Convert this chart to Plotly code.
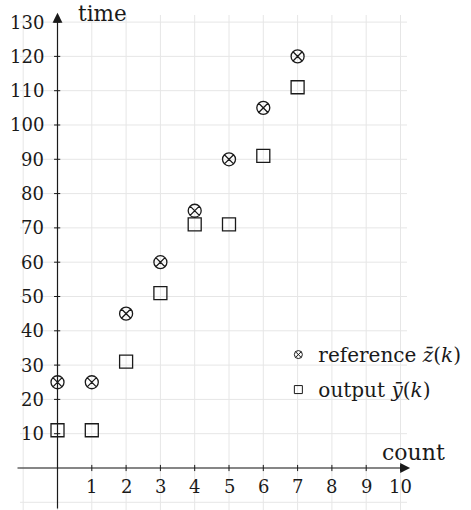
import plotly.graph_objects as go

# ---- data -------------------------------------------------------------
count = [0, 1, 2, 3, 4, 5, 6, 7]
reference_z = [25, 25, 45, 60, 75, 90, 105, 120]
output_y = [11, 11, 31, 51, 71, 71, 91, 111]

x_tick_vals = [1, 2, 3, 4, 5, 6, 7, 8, 9, 10]
y_tick_vals = [10, 20, 30, 40, 50, 60, 70, 80, 90, 100, 110, 120, 130]
x_grid_vals = list(range(-1, 11))
y_grid_vals = list(range(-10, 131, 10))

# ---- geometry (data units) ---------------------------------------------
X_LIM = (-1.6764, 12.0554)
Y_LIM = (-12.245, 136.44)
GRID_X_SPAN = (-1.093, 10.19)
GRID_Y_SPAN = (Y_LIM[0], 132.07)

FONT = "DejaVu Serif"
INK = "#1a1a1a"
GRID = "#e6e6e6"

fig = go.Figure()

# data traces
fig.add_trace(go.Scatter(
    x=count, y=reference_z, mode="markers", showlegend=False,
    marker=dict(symbol="circle-x-open", size=13, color=INK, line=dict(width=1.3, color=INK)),
))
fig.add_trace(go.Scatter(
    x=count, y=output_y, mode="markers", showlegend=False,
    marker=dict(symbol="square-open", size=13, color=INK, line=dict(width=1.3, color=INK)),
))
# legend entries (smaller legend symbols)
fig.add_trace(go.Scatter(
    x=[None], y=[None], mode="markers", name="reference <i>z̄</i>(<i>k</i>)",
    legendgroup="a",
    marker=dict(symbol="circle-x-open", size=8, color=INK, line=dict(width=1, color=INK)),
))
fig.add_trace(go.Scatter(
    x=[None], y=[None], mode="markers", name="output <i>ȳ</i>(<i>k</i>)",
    legendgroup="b",
    marker=dict(symbol="square-open", size=8, color=INK, line=dict(width=1, color=INK)),
))

shapes = []
# grid
for gx in x_grid_vals:
    shapes.append(dict(type="line", xref="x", yref="y", x0=gx, x1=gx,
                       y0=GRID_Y_SPAN[0], y1=GRID_Y_SPAN[1], layer="below",
                       line=dict(color=GRID, width=1)))
for gy in y_grid_vals:
    shapes.append(dict(type="line", xref="x", yref="y", y0=gy, y1=gy,
                       x0=GRID_X_SPAN[0], x1=GRID_X_SPAN[1], layer="below",
                       line=dict(color=GRID, width=1)))
# tick marks
for tx in x_tick_vals:
    shapes.append(dict(type="line", xref="x", yref="y", x0=tx, x1=tx, y0=-0.9, y1=0.9,
                       line=dict(color=INK, width=1)))
for ty in y_tick_vals:
    shapes.append(dict(type="line", xref="x", yref="y", y0=ty, y1=ty, x0=-0.1, x1=0.08,
                       line=dict(color=INK, width=1)))

annotations = []
# axes with arrows
annotations.append(dict(x=10.28, y=0, ax=-1.21, ay=0, xref="x", yref="y",
                        axref="x", ayref="y", text="", showarrow=True,
                        arrowhead=2, arrowsize=1.65, arrowwidth=1.2, arrowcolor=INK,
                        standoff=0, startstandoff=0))
annotations.append(dict(x=0, y=132.7, ax=0, ay=Y_LIM[0], xref="x", yref="y",
                        axref="x", ayref="y", text="", showarrow=True,
                        arrowhead=2, arrowsize=1.65, arrowwidth=1.2, arrowcolor=INK,
                        standoff=0, startstandoff=0))
# tick labels
for tx in x_tick_vals:
    annotations.append(dict(x=tx, y=-5.25, xref="x", yref="y", text=str(tx),
                            showarrow=False, xanchor="center", yanchor="middle",
                            font=dict(family=FONT, size=18, color=INK)))
for ty in y_tick_vals:
    annotations.append(dict(x=-0.33, y=ty, xref="x", yref="y", text=str(ty),
                            showarrow=False, xanchor="right", yanchor="middle",
                            font=dict(family=FONT, size=18, color=INK)))
# axis titles
annotations.append(dict(x=0.53, y=132.6, xref="x", yref="y", text="time",
                        showarrow=False, xanchor="left", yanchor="middle",
                        font=dict(family=FONT, size=21.5, color=INK)))
annotations.append(dict(x=9.4, y=4.6, xref="x", yref="y", text="count",
                        showarrow=False, xanchor="left", yanchor="middle",
                        font=dict(family=FONT, size=22, color=INK)))

fig.update_layout(
    width=471, height=510,
    margin=dict(l=0, r=0, t=0, b=0),
    paper_bgcolor="white", plot_bgcolor="white",
    font=dict(family=FONT, color=INK),
    xaxis=dict(range=list(X_LIM), visible=False, showgrid=False, zeroline=False),
    yaxis=dict(range=list(Y_LIM), visible=False, showgrid=False, zeroline=False),
    shapes=shapes,
    annotations=annotations,
    showlegend=True,
    legend=dict(x=0.591, y=0.343, xanchor="left", yanchor="top",
                bgcolor="rgba(0,0,0,0)", tracegroupgap=6,
                font=dict(family=FONT, size=20, color=INK)),
)

fig.write_html("out.html", config={"displayModeBar": False},
               post_script="document.body.style.margin='0';")
